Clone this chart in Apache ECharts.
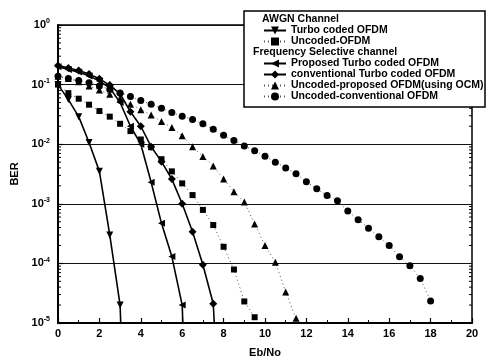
<!DOCTYPE html>
<html><head><meta charset="utf-8">
<script src="https://cdn.jsdelivr.net/npm/echarts@6/dist/echarts.min.js"></script>
<style>html,body{margin:0;padding:0;background:#fff}#c{width:487px;height:364px}</style>
</head><body><div id="c"></div>
<script>
// ---- data (Eb/No in dB, BER) ----
const xTickLabels = ['0','2','4','6','8','10','12','14','16','18','20'];
const yTickValues = [1e-5,1e-4,1e-3,1e-2,1e-1,1];

const ebAwgnTurbo  = [0,0.5,1,1.5,2,2.5,3,3.03];
const berAwgnTurbo = [1.0e-1,5.6e-2,2.9e-2,1.07e-2,3.5e-3,3.0e-4,2.0e-5,1.0e-5];

const ebAwgnUncoded  = [0,0.5,1,1.5,2,2.5,3,3.5,4,4.5,5,5.5,6,6.5,7,7.5,8,8.5,9,9.5];
const berAwgnUncoded = [1.0e-1,7.2e-2,5.8e-2,4.6e-2,3.6e-2,2.9e-2,2.2e-2,1.66e-2,1.2e-2,8.9e-3,5.6e-3,3.5e-3,2.2e-3,1.4e-3,7.9e-4,4.4e-4,1.9e-4,7.9e-5,2.3e-5,1.25e-5];

const ebPropTurbo  = [0,0.5,1,1.5,2,2.5,3,3.5,4,4.5,5,5.5,6,6.03];
const berPropTurbo = [2.0e-1,1.8e-1,1.62e-1,1.4e-1,1.15e-1,8.8e-2,5.0e-2,2.0e-2,1.0e-2,2.3e-3,4.7e-4,1.3e-4,2.0e-5,1.0e-5];

const ebConvTurbo  = [0,0.5,1,1.5,2,2.5,3,3.5,4,4.5,5,5.5,6,6.5,7,7.5,7.55];
const berConvTurbo = [2.1e-1,1.9e-1,1.72e-1,1.5e-1,1.25e-1,9.8e-2,7.0e-2,3.5e-2,2.0e-2,9.1e-3,5.1e-3,2.6e-3,1.0e-3,3.4e-4,9.5e-5,2.1e-5,1.0e-5];

const ebUncProp  = [0,0.5,1,1.5,2,2.5,3,3.5,4,4.5,5,5.5,6,6.5,7,7.5,8,8.5,9,9.5,10,10.5,11,11.5];
const berUncProp = [1.38e-1,1.26e-1,1.12e-1,9.5e-2,8.1e-2,6.9e-2,5.8e-2,4.7e-2,3.8e-2,3.1e-2,2.4e-2,1.9e-2,1.38e-2,9.1e-3,6.2e-3,4.3e-3,2.6e-3,1.6e-3,1.07e-3,4.6e-4,2.0e-4,1.05e-4,3.3e-5,1.2e-5];

const ebUncConv  = [0,0.5,1,1.5,2,2.5,3,3.5,4,4.5,5,5.5,6,6.5,7,7.5,8,8.5,9,9.5,10,10.5,11,11.5,12,12.5,13,13.5,14,14.5,15,15.5,16,16.5,17,17.5,18];
const berUncConv = [1.38e-1,1.26e-1,1.17e-1,1.07e-1,9.5e-2,8.3e-2,7.2e-2,6.3e-2,5.4e-2,4.7e-2,4.0e-2,3.4e-2,2.95e-2,2.6e-2,2.2e-2,1.78e-2,1.41e-2,1.15e-2,9.3e-3,7.8e-3,6.3e-3,5.0e-3,4.0e-3,3.2e-3,2.35e-3,1.78e-3,1.38e-3,1.12e-3,7.6e-4,5.4e-4,3.9e-4,2.8e-4,2.0e-4,1.29e-4,9.1e-5,5.6e-5,2.35e-5];

const minorTickVals = [];
[1e-5,1e-4,1e-3,1e-2,1e-1].forEach(d => { for (let k = 2; k <= 9; k++) minorTickVals.push(+(k*d).toPrecision(3)); });

const FONT = '"Liberation Sans", Arial, sans-serif';

function pairs(xs, ys, endNoSymbol) {
  return xs.map((x, i) => {
    if (endNoSymbol && i === xs.length - 1) return { value: [x, ys[i]], symbol: 'none' };
    return [x, ys[i]];
  });
}

const chart = echarts.init(document.getElementById('c'), null, { renderer: 'canvas' });

const solid = { color: '#000', width: 1.6, type: 'solid' };
const dotted = { color: '#555', width: 1, type: [1, 3] };
const legendText = { fontSize: 10.5, fontWeight: 'bold', color: '#000', fontFamily: FONT, lineHeight: 11 };

chart.setOption({
  animation: false,
  backgroundColor: '#fff',
  textStyle: { fontFamily: FONT },
  grid: { left: 58, right: 15, top: 25, bottom: 41, show: true, borderColor: '#000', borderWidth: 1.5 },
  xAxis: {
    type: 'value', min: 0, max: 20, interval: 2,
    name: 'Eb/No', nameLocation: 'middle', nameGap: 24,
    nameTextStyle: { fontSize: 11, fontWeight: 'bold', color: '#000', fontFamily: FONT },
    axisLine: { lineStyle: { color: '#000', width: 2 } },
    axisTick: { inside: true, length: 5, lineStyle: { color: '#000', width: 1.2 } },
    minorTick: { show: true, splitNumber: 2, length: 3, lineStyle: { color: '#000', width: 1 } },
    splitLine: { show: false },
    axisLabel: { fontSize: 11, fontWeight: 'bold', color: '#000', margin: 5,
      formatter: (v) => xTickLabels[Math.round(v / 2)] }
  },
  yAxis: {
    type: 'log', logBase: 10, min: 1e-5, max: 1,
    name: 'BER', nameLocation: 'middle', nameGap: 38,
    nameTextStyle: { fontSize: 11, fontWeight: 'bold', color: '#000', fontFamily: FONT },
    axisLine: { lineStyle: { color: '#000', width: 2 } },
    axisTick: { inside: true, length: 5, lineStyle: { color: '#000', width: 1.2 } },
    splitLine: { show: true, lineStyle: { color: '#111', width: 1 } },
    axisLabel: {
      margin: 8, color: '#000',
      formatter: (v) => {
        const e = Math.round(Math.log10(v));
        return '{b|10}{s|' + (e === 0 ? '0' : String(e)) + '}';
      },
      rich: {
        b: { fontSize: 11, fontWeight: 'bold', color: '#000', fontFamily: FONT, lineHeight: 14 },
        s: { fontSize: 7, fontWeight: 'bold', color: '#000', fontFamily: FONT, lineHeight: 8, verticalAlign: 'top' }
      }
    }
  },
  legend: [
    { left: 263, top: 25, orient: 'vertical', itemGap: 0, itemWidth: 22, itemHeight: 10, padding: 0, z: 10,
      selectedMode: false, textStyle: legendText,
      data: ['Turbo coded OFDM', 'Uncoded-OFDM'] },
    { left: 263, top: 58, orient: 'vertical', itemGap: 0, itemWidth: 22, itemHeight: 10, padding: 0, z: 10,
      selectedMode: false, textStyle: legendText,
      data: ['Proposed Turbo coded OFDM', 'conventional Turbo coded OFDM', 'Uncoded-proposed OFDM(using OCM)', 'Uncoded-conventional OFDM'] }
  ],
  graphic: [
    { type: 'rect', z: 8, shape: { x: 244, y: 11, width: 241, height: 96 },
      style: { fill: '#fff', stroke: '#000', lineWidth: 1.5 } },
    { type: 'text', z: 11, left: 262, top: 14,
      style: { text: 'AWGN Channel', font: 'bold 10.5px ' + FONT, fill: '#000' } },
    { type: 'text', z: 11, left: 253, top: 47,
      style: { text: 'Frequency Selective channel', font: 'bold 10.5px ' + FONT, fill: '#000' } }
  ],
  series: [
    { name: 'Turbo coded OFDM', type: 'line', data: pairs(ebAwgnTurbo, berAwgnTurbo, true),
      symbol: 'triangle', symbolRotate: 180, symbolSize: 7, lineStyle: solid, itemStyle: { color: '#000' } },
    { name: 'Uncoded-OFDM', type: 'line', data: pairs(ebAwgnUncoded, berAwgnUncoded),
      symbol: 'rect', symbolSize: 6, lineStyle: dotted, itemStyle: { color: '#000' } },
    { name: 'Proposed Turbo coded OFDM', type: 'line', data: pairs(ebPropTurbo, berPropTurbo, true),
      symbol: 'triangle', symbolRotate: 90, symbolSize: 7, lineStyle: solid, itemStyle: { color: '#000' } },
    { name: 'conventional Turbo coded OFDM', type: 'line', data: pairs(ebConvTurbo, berConvTurbo, true),
      symbol: 'diamond', symbolSize: 8, lineStyle: solid, itemStyle: { color: '#000' } },
    { name: 'Uncoded-proposed OFDM(using OCM)', type: 'line', data: pairs(ebUncProp, berUncProp),
      symbol: 'triangle', symbolSize: 7, lineStyle: dotted, itemStyle: { color: '#000' } },
    { name: 'Uncoded-conventional OFDM', type: 'line', data: pairs(ebUncConv, berUncConv),
      symbol: 'circle', symbolSize: 7, lineStyle: dotted, itemStyle: { color: '#000' } },
    { name: 'minorTicks', type: 'custom', silent: true, z: 3,
      data: minorTickVals.map(v => [0, v]),
      renderItem: (params, api) => {
        const v = api.value(1);
        const pL = api.coord([0, v]);
        const pR = api.coord([20, v]);
        return { type: 'group', children: [
          { type: 'line', shape: { x1: pL[0], y1: pL[1], x2: pL[0] + 3, y2: pL[1] }, style: { stroke: '#000', lineWidth: 1 } },
          { type: 'line', shape: { x1: pR[0], y1: pR[1], x2: pR[0] - 3, y2: pR[1] }, style: { stroke: '#000', lineWidth: 1 } }
        ]};
      } }
  ]
});
</script>
</body></html>
